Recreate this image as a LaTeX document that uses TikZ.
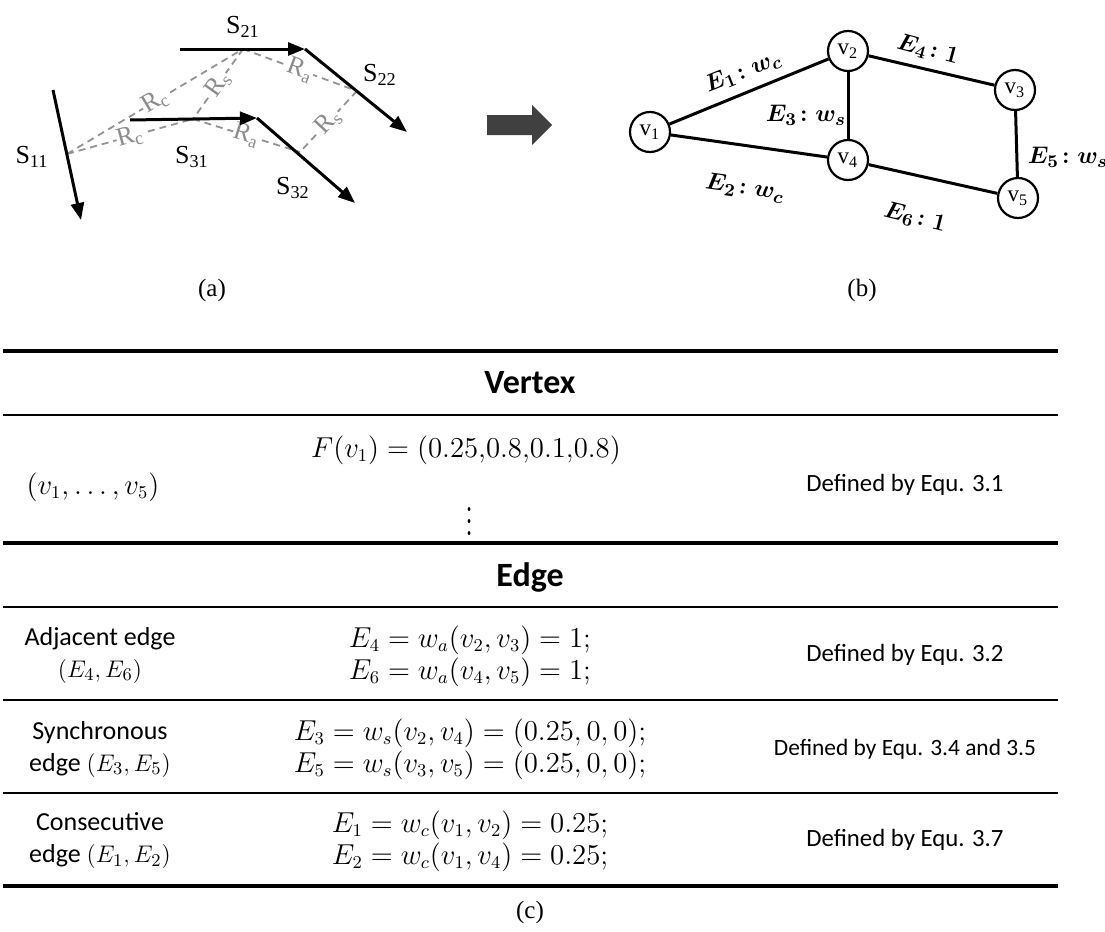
\documentclass[tikz,border=0pt]{standalone}
\usepackage{amsmath,amssymb}
\usepackage{graphicx}
\usepackage{fontspec}
\newfontfamily\calfont{Carlito}
\newfontfamily\timesfont{Liberation Serif}
\usepackage{tikz}
\usetikzlibrary{arrows.meta, positioning}

\begin{document}
\begin{tikzpicture}[
  x=0.5pt, y=-0.5pt,
  seg/.style={line width=1.5pt, -{Triangle[length=8.5pt,width=6.5pt]}},
  rel/.style={gray!85, line width=0.9pt, dash pattern=on 3.5pt off 2.5pt},
  rlab/.style={font=\timesfont\fontsize{13}{13}\selectfont, text=gray!90,
               fill=white, inner sep=0.3pt, sloped},
  slab/.style={font=\timesfont\fontsize{13}{13}\selectfont},
  vert/.style={draw, circle, line width=1.1pt, minimum size=20pt,
               inner sep=0pt, font=\timesfont\fontsize{11.5}{11.5}\selectfont},
  gedge/.style={line width=1.5pt},
  elab/.style={font=\fontsize{12.5}{12.5}\selectfont\boldmath, inner sep=1pt},
  sublab/.style={font=\timesfont\fontsize{12.5}{12.5}\selectfont},
  thinrule/.style={line width=1pt},
  thickrule/.style={line width=1.6pt},
  head/.style={font=\calfont\bfseries\fontsize{17}{17}\selectfont},
  cell/.style={font=\calfont\fontsize{13}{16}\selectfont, align=center},
  defn/.style={font=\calfont\fontsize{12.4}{15}\selectfont},
  eqn/.style={font=\fontsize{13.5}{16}\selectfont, align=center}
]
  \useasboundingbox (0,0) rectangle (1105,932);

  % (a) segments
  \coordinate (s11a) at (53,90);   \coordinate (s11b) at (81,220);
  \coordinate (s21a) at (180,49);  \coordinate (s21b) at (305,49);
  \coordinate (s22b) at (407,132);
  \coordinate (s31a) at (130,120); \coordinate (s31b) at (257,118);
  \coordinate (s32b) at (355,203);
  \coordinate (p11) at (67,154);
  \coordinate (p21) at (243,49);
  \coordinate (p31) at (193,119);
  \coordinate (p22) at (357,91);
  \coordinate (p32) at (300,152);

  \draw[rel] (p11) -- node[rlab] {R\textsubscript{c}} (p21);
  \draw[rel] (p11) -- node[rlab] {R\textsubscript{c}} (p31);
  \draw[rel] (p21) -- node[rlab] {R\textsubscript{s}} (p31);
  \draw[rel] (p21) -- node[rlab] {R\textsubscript{a}} (p22);
  \draw[rel] (p31) -- node[rlab] {R\textsubscript{a}} (p32);
  \draw[rel] (p22) -- node[rlab] {R\textsubscript{s}} (p32);

  \draw[seg] (s11a) -- (s11b);
  \draw[seg] (s21a) -- (s21b);
  \draw[seg] (s21b) -- (s22b);
  \draw[seg] (s31a) -- (s31b);
  \draw[seg] (s31b) -- (s32b);

  \node[slab] (l11) at (32,157)  {S\textsubscript{11}};
  \node[slab] (l21) at (243,27)  {S\textsubscript{21}};
  \node[slab] (l22) at (380,75)  {S\textsubscript{22}};
  \node[slab] (l31) at (192,157) {S\textsubscript{31}};
  \node[slab] (l32) at (293,188) {S\textsubscript{32}};

  % block arrow
  \fill[black!75] (487,115) -- (532,115) -- (532,105) -- (552,125)
                  -- (532,145) -- (532,135) -- (487,135) -- cycle;

  % (b) graph
  \node[vert] (v1) at (650,132)  {v\textsubscript{1}};
  \node[vert] (v2) at (848,51)   {v\textsubscript{2}};
  \node[vert] (v3) at (1015,90)  {v\textsubscript{3}};
  \node[vert] (v4) at (848,160)  {v\textsubscript{4}};
  \node[vert] (v5) at (1018,198) {v\textsubscript{5}};

  \draw[gedge] (v1) -- (v2);
  \draw[gedge] (v1) -- (v4);
  \draw[gedge] (v2) -- (v4);
  \draw[gedge] (v2) -- (v3);
  \draw[gedge] (v3) -- (v5);
  \draw[gedge] (v4) -- (v5);

  \node[elab, rotate=22]  (e1) at (743,72)   {$E_1\!: w_c$};
  \node[elab, rotate=-8]  (e2) at (745,188)  {$E_2\!: w_c$};
  \node[elab]             (e3) at (806,115)  {$E_3\!: w_s$};
  \node[elab, rotate=-15] (e4) at (928,50)   {$E_4\!: 1$};
  \node[elab]             (e5) at (1068,157) {$E_5\!: w_s$};
  \node[elab, rotate=-14] (e6) at (915,218)  {$E_6\!: 1$};

  \node[sublab] (capa) at (212,290) {(a)};
  \node[sublab] (capb) at (862,290) {(b)};

  % (c) table
  \draw[thickrule] (3,351) -- (1058,351);
  \draw[thickrule] (3,543) -- (1058,543);
  \draw[thickrule] (3,886) -- (1058,886);
  \foreach \y in {415,607,700,793}
    \draw[thinrule] (3,\y) -- (1058,\y);

  \node[head] (vhead) at (530,383) {Vertex};
  \node[eqn]  (fv1)   at (466,450) {$F(v_1) = (0.25{,}0.8{,}0.1{,}0.8)$};
  \node[eqn, inner sep=0pt] (vdots) at (470,513)
              {\scalebox{1.1}[1.5]{$\boldsymbol{\vdots}$}};
  \node[eqn]  (vset)  at (93,487)  {$(v_1, \ldots, v_5)$};
  \node[defn] (d31)   at (905,485) {Defined by Equ. 3.1};

  \node[head] (ehead) at (530,577) {Edge};

  \node[cell] (adj) at (100,655) {Adjacent edge\\$(E_4, E_6)$};
  \node[eqn]  (adjeq) at (470,656)
    {$E_4 = w_a(v_2, v_3) = 1;$\\$E_6 = w_a(v_4, v_5) = 1;$};
  \node[defn] (d32) at (905,655) {Defined by Equ. 3.2};

  \node[cell] (syn) at (100,749) {Synchronous\\edge $(E_3, E_5)$};
  \node[eqn]  (syneq) at (470,749)
    {$E_3 = w_s(v_2, v_4) = (0.25, 0, 0);$\\$E_5 = w_s(v_3, v_5) = (0.25, 0, 0);$};
  \node[defn, font=\calfont\fontsize{11.7}{14}\selectfont] (d345) at (905,749)
    {Defined by Equ. 3.4 and 3.5};

  \node[cell] (con) at (100,841) {Consecutive\\edge $(E_1, E_2)$};
  \node[eqn]  (coneq) at (470,841)
    {$E_1 = w_c(v_1, v_2) = 0.25;$\\$E_2 = w_c(v_1, v_4) = 0.25;$};
  \node[defn] (d37) at (905,840) {Defined by Equ. 3.7};

  \node[sublab] (capc) at (530,912) {(c)};
\end{tikzpicture}
\end{document}
